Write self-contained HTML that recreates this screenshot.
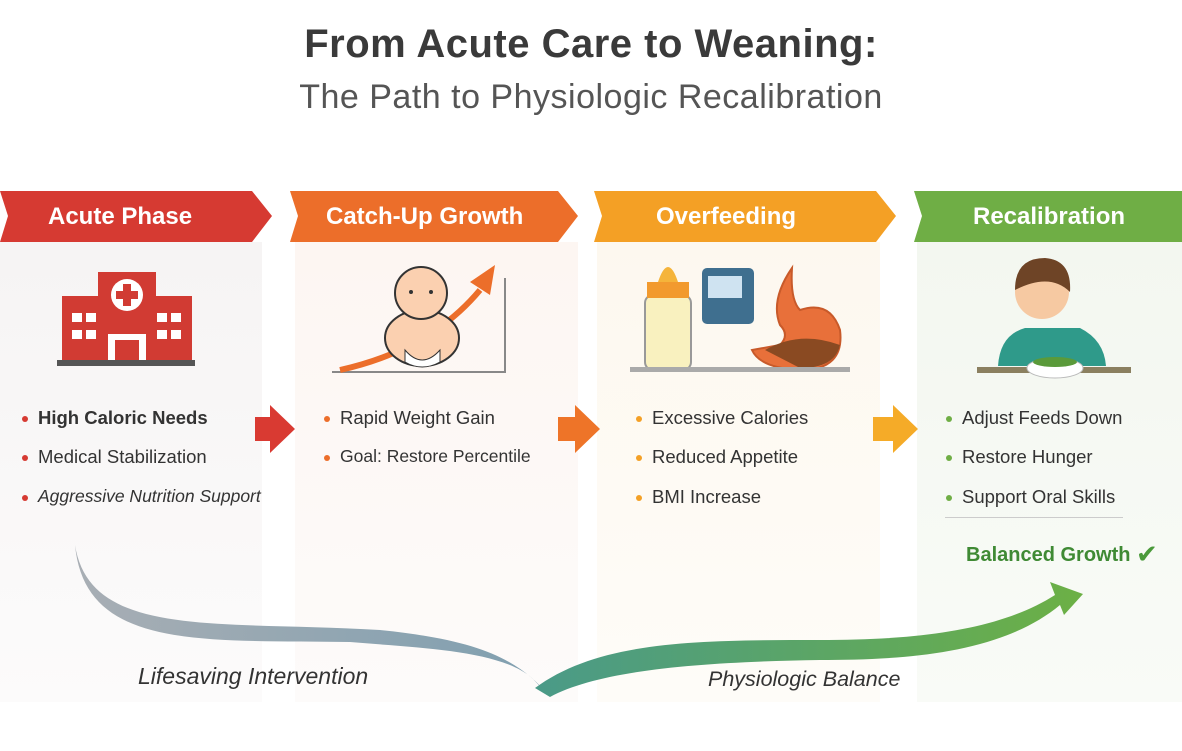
<!DOCTYPE html>
<html><head><style>
body{margin:0;width:1182px;height:751px;background:#fff;font-family:"Liberation Sans",sans-serif;position:relative;overflow:hidden}
.t{position:absolute;left:0;width:1182px;text-align:center;color:#3a3a3a}
.col{position:absolute;top:242px;height:460px}
.li{position:absolute;font-size:18.5px;color:#333}
.li:before{content:"";position:absolute;left:-16px;top:9px;width:6px;height:6px;border-radius:3px;background:var(--c)}
.bt{position:absolute;top:203px;color:#fff;font-size:24px;font-weight:bold}
</style></head><body>
<div class="t" style="top:22px;font-size:40px;font-weight:bold;letter-spacing:0.5px">From Acute Care to Weaning:</div>
<div class="t" style="top:78px;font-size:34px;color:#555;letter-spacing:0.5px">The Path to Physiologic Recalibration</div>

<div class="col" style="left:0;width:262px;background:linear-gradient(#f6f4f4,#fcfbfb)"></div>
<div class="col" style="left:295px;width:283px;background:linear-gradient(#fdf6f2,#fdfbfa)"></div>
<div class="col" style="left:597px;width:283px;background:linear-gradient(#fdf8ef,#fefcf8)"></div>
<div class="col" style="left:917px;width:265px;background:linear-gradient(#f3f7f0,#f9fbf7)"></div>

<svg width="1182" height="751" style="position:absolute;left:0;top:0">
<defs>
<linearGradient id="g1" x1="0" x2="1"><stop offset="0" stop-color="#a8aeb4"/><stop offset="1" stop-color="#7f9fb0"/></linearGradient>
<linearGradient id="g2" x1="0" x2="1"><stop offset="0" stop-color="#4a9a88"/><stop offset="1" stop-color="#6cb045"/></linearGradient>
</defs>
<polygon points="0,191 252,191 272,216 252,242 0,242 8,216" fill="#d63a32"/>
<polygon points="290,191 558,191 578,216 558,242 290,242 298,216" fill="#ec6e2a"/>
<polygon points="594,191 876,191 896,216 876,242 594,242 602,216" fill="#f4a025"/>
<polygon points="914,191 1182,191 1182,242 914,242 922,216" fill="#6fae45"/>
<polygon points="255,417 270,417 270,405 295,429 270,453 270,441 255,441" fill="#d93a32"/>
<polygon points="558,417 575,417 575,405 600,429 575,453 575,441 558,441" fill="#ee7428"/>
<polygon points="873,417 893,417 893,405 918,429 893,453 893,441 873,441" fill="#f5ab28"/>
<rect x="62" y="296" width="130" height="64" fill="#d13b33"/><rect x="98" y="272" width="58" height="30" fill="#d13b33"/>
<circle cx="127" cy="295" r="16" fill="#fff"/><rect x="123" y="284" width="8" height="22" fill="#d13b33"/><rect x="116" y="291" width="22" height="8" fill="#d13b33"/>
<g fill="#fff"><rect x="72" y="313" width="10" height="9"/><rect x="86" y="313" width="10" height="9"/><rect x="72" y="330" width="10" height="9"/><rect x="86" y="330" width="10" height="9"/><rect x="157" y="313" width="10" height="9"/><rect x="171" y="313" width="10" height="9"/><rect x="157" y="330" width="10" height="9"/><rect x="171" y="330" width="10" height="9"/><rect x="108" y="334" width="38" height="26"/></g>
<rect x="115" y="340" width="24" height="20" fill="#d13b33"/>
<rect x="57" y="360" width="138" height="6" fill="#555"/>
<path d="M332 372 L505 372 L505 278" stroke="#888" stroke-width="2" fill="none"/>
<path d="M340 370 Q430 350 480 290" stroke="#ec6e2a" stroke-width="6" fill="none"/><polygon points="470,282 495,265 490,295" fill="#ec6e2a"/>
<ellipse cx="422" cy="338" rx="37" ry="28" fill="#fbd0b0" stroke="#333" stroke-width="2"/>
<circle cx="421" cy="293" r="26" fill="#fbd0b0" stroke="#333" stroke-width="2"/>
<path d="M405 350 Q422 370 440 350 L440 362 Q422 372 405 362Z" fill="#fff" stroke="#333"/>
<circle cx="411" cy="292" r="2" fill="#333"/><circle cx="431" cy="292" r="2" fill="#333"/>
<rect x="645" y="295" width="46" height="75" rx="8" fill="#f9f1bf" stroke="#999" stroke-width="2"/>
<rect x="647" y="282" width="42" height="16" fill="#f29a2e"/><path d="M658 282 Q668 252 678 282Z" fill="#f5b43a"/>
<rect x="702" y="268" width="52" height="56" rx="5" fill="#3f6f8f"/><rect x="708" y="276" width="34" height="22" fill="#cfe3f1"/>
<path d="M792 268 Q790 300 800 310 Q830 300 840 330 Q845 370 800 370 Q760 368 752 350 L780 345 Q790 335 780 325 Q770 300 792 268Z" fill="#e8703a" stroke="#c85a2a" stroke-width="2"/>
<path d="M765 350 Q800 330 840 345 Q835 368 800 368Z" fill="#8a4a22"/>
<rect x="630" y="367" width="220" height="5" fill="#aaa"/>
<rect x="977" y="367" width="154" height="6" fill="#8b8060"/>
<path d="M998 366 Q1000 335 1025 328 L1080 328 Q1104 340 1106 366Z" fill="#2f9a8a"/>
<circle cx="1042" cy="292" r="27" fill="#f6c9a2"/><path d="M1015 290 Q1015 258 1045 258 Q1072 260 1070 292 Q1050 272 1015 290Z" fill="#6e4426"/>
<ellipse cx="1055" cy="368" rx="28" ry="10" fill="#fff" stroke="#bbb"/><ellipse cx="1055" cy="362" rx="22" ry="5" fill="#5a9a3a"/>
<path d="M75 545 C90 640 220 620 380 630 C480 640 520 660 550 697 L532 678 C500 650 420 648 350 642 C200 640 85 650 75 545Z" fill="url(#g1)"/>
<path d="M535 688 C600 640 700 640 820 640 C920 640 1000 630 1055 595 L1050 582 L1083 594 L1064 615 L1060 605 C1000 655 900 660 820 660 C700 662 600 670 550 697Z" fill="url(#g2)"/>
<text x="1136" y="563" font-size="26" fill="#4a9a3a" font-family="DejaVu Sans">✔</text>
</svg>

<div class="bt" style="left:48px">Acute Phase</div>
<div class="bt" style="left:326px">Catch-Up Growth</div>
<div class="bt" style="left:656px">Overfeeding</div>
<div class="bt" style="left:973px">Recalibration</div>

<div style="--c:#d63a32">
<div class="li" style="left:38px;top:407px;font-weight:bold">High Caloric Needs</div>
<div class="li" style="left:38px;top:446px">Medical Stabilization</div>
<div class="li" style="left:38px;top:486px;font-style:italic;font-size:17.5px">Aggressive Nutrition Support</div></div>
<div style="--c:#ec6e2a">
<div class="li" style="left:340px;top:407px">Rapid Weight Gain</div>
<div class="li" style="left:340px;top:446px;font-size:17.5px">Goal: Restore Percentile</div></div>
<div style="--c:#f4a025">
<div class="li" style="left:652px;top:407px">Excessive Calories</div>
<div class="li" style="left:652px;top:446px">Reduced Appetite</div>
<div class="li" style="left:652px;top:486px">BMI Increase</div></div>
<div style="--c:#6fae45">
<div class="li" style="left:962px;top:407px">Adjust Feeds Down</div>
<div class="li" style="left:962px;top:446px">Restore Hunger</div>
<div class="li" style="left:962px;top:486px">Support Oral Skills</div></div>
<div style="position:absolute;left:945px;top:517px;width:178px;height:1px;background:#ccc"></div>
<div style="position:absolute;left:966px;top:544px;font-size:20px;font-weight:bold;color:#3f8a34">Balanced Growth</div>
<div style="position:absolute;left:138px;top:663px;font-size:23px;font-style:italic;color:#333">Lifesaving Intervention</div>
<div style="position:absolute;left:708px;top:667px;font-size:21.5px;font-style:italic;color:#333">Physiologic Balance</div>
</body></html>
